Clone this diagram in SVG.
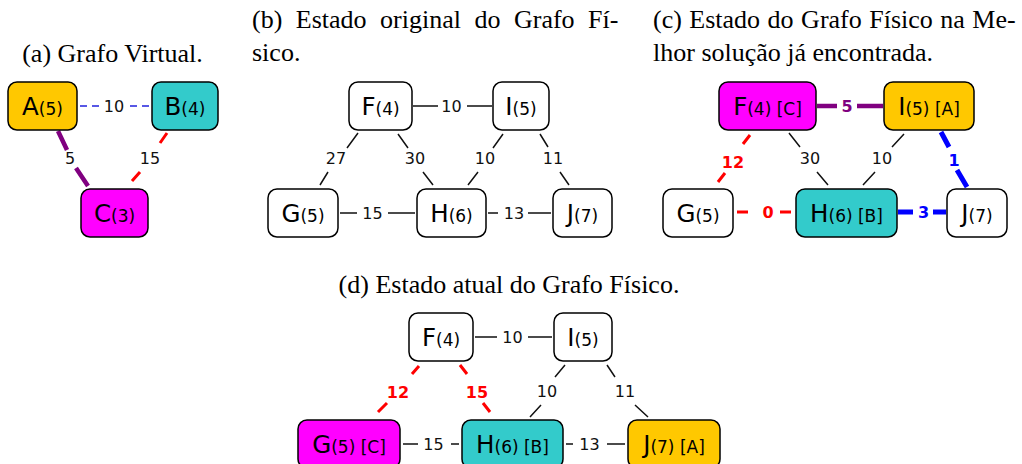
<svg xmlns="http://www.w3.org/2000/svg" width="1022" height="464" viewBox="0 0 1022 464">
<style>
.bg{fill:#fff}
.box{stroke:#000;stroke-width:1.5}
.w{fill:#fff}.mg{fill:#ff00ff}.gd{fill:#ffc800}.tl{fill:#33cbcb}
.nt{font-family:"DejaVu Sans",Verdana,sans-serif;text-anchor:middle;fill:#000}
.big{font-size:24.5px}.sm{font-size:17px}
.lbl{font-family:"DejaVu Sans",Verdana,sans-serif;font-size:16px;text-anchor:middle;fill:#111}
.b{font-weight:bold}
.cap{font-family:"Liberation Serif","Times New Roman",serif;font-size:26px;fill:#000}
.thin{stroke:#111;stroke-width:1.5;fill:none}
.red{stroke:#ff0000;stroke-width:3;fill:none}
.pur{stroke:#800080;stroke-width:4.5;fill:none}
.blu{stroke:#0000ff;stroke-width:5;fill:none}
.bluthin{stroke:#2222dd;stroke-width:1.5;fill:none}
</style>
<rect class="bg" width="1022" height="464"/>
<g id="captions">
<text class="cap" x="112.5" y="62" text-anchor="middle">(a) Grafo Virtual.</text>
<text class="cap" x="252" y="28" word-spacing="7">(b) Estado original do Grafo Fí-</text>
<text class="cap" x="252" y="61">sico.</text>
<text class="cap" x="653" y="28" word-spacing="1">(c) Estado do Grafo Físico na Me-</text>
<text class="cap" x="653" y="61">lhor solução já encontrada.</text>
<text class="cap" x="509" y="293" text-anchor="middle">(d) Estado atual do Grafo Físico.</text>
</g>
<g id="connectors">
<!-- (a) -->
<path class="bluthin" d="M80,106H87M92,106H99M130,106H137M142,106H149"/>
<text class="lbl" x="114" y="112">10</text>
<path class="pur" d="M58,131L67,150M76,168L88,186"/>
<text class="lbl" x="70" y="164">5</text>
<path class="red" d="M167,133L160,143M140,172L132,181"/>
<text class="lbl" x="150" y="164">15</text>
<!-- (b) -->
<path class="thin" d="M413,106H438M467,106H492"/>
<text class="lbl" x="451.5" y="112">10</text>
<path class="thin" d="M358,133L347,148M328,172L320,185"/>
<text class="lbl" x="336" y="164">27</text>
<path class="thin" d="M398,134L408,148M423,172L433,185"/>
<text class="lbl" x="415" y="164">30</text>
<path class="thin" d="M503,134L493,148M478,172L468,185"/>
<text class="lbl" x="485" y="164">10</text>
<path class="thin" d="M540,134L548,147M560,172L569,185"/>
<text class="lbl" x="553" y="164">11</text>
<path class="thin" d="M340,213H357M388,213H415"/>
<text class="lbl" x="372.5" y="219">15</text>
<path class="thin" d="M488,213H498M528,213H551"/>
<text class="lbl" x="514" y="219">13</text>
<!-- (c) -->
<path class="pur" d="M817,106H837M857,106H883"/>
<text class="lbl b" x="847" y="112" style="fill:#800080">5</text>
<path class="red" d="M750,135L743,144M725,173L718,182"/>
<text class="lbl b" x="733" y="168" style="fill:#ff0000">12</text>
<path class="thin" d="M789,133L800,147M817,172L828,185"/>
<text class="lbl" x="810" y="164">30</text>
<path class="thin" d="M904,134L892,147M875,172L863,185"/>
<text class="lbl" x="882" y="164">10</text>
<path class="blu" d="M941,132L949,147M957,170L967,187"/>
<text class="lbl b" x="954" y="166" style="fill:#0000ff">1</text>
<path class="red" d="M737,212H748M780,212H791"/>
<text class="lbl b" x="768" y="218" style="fill:#ff0000">0</text>
<path class="blu" d="M898,212H913M933,212H946"/>
<text class="lbl b" x="923.5" y="218" style="fill:#0000ff">3</text>
<!-- (d) -->
<path class="thin" d="M475,337H497M528,337H552"/>
<text class="lbl" x="512.5" y="343">10</text>
<path class="red" d="M419,366L412,374M387,403L378,412"/>
<text class="lbl b" x="398" y="398" style="fill:#ff0000">12</text>
<path class="red" d="M460,365L467,374M483,403L490,412"/>
<text class="lbl b" x="477" y="398" style="fill:#ff0000">15</text>
<path class="thin" d="M565,365L555,377M541,405L530,417"/>
<text class="lbl" x="547" y="397">10</text>
<path class="thin" d="M607,365L615,377M635,405L648,417"/>
<text class="lbl" x="625" y="397">11</text>
<path class="thin" d="M403,444H418M451,444H459"/>
<text class="lbl" x="433.5" y="450">15</text>
<path class="thin" d="M566,444H573M607,444H625"/>
<text class="lbl" x="589.5" y="450">13</text>
</g>
<!-- (a) nodes -->
<g id="a-A"><rect class="box gd" x="8" y="82" width="69" height="48" rx="9"/><text class="nt" x="42.5" y="115"><tspan class="big">A</tspan><tspan class="sm">(5)</tspan></text></g>
<g id="a-B"><rect class="box tl" x="152" y="82" width="66" height="48" rx="9"/><text class="nt" x="185" y="115"><tspan class="big">B</tspan><tspan class="sm">(4)</tspan></text></g>
<g id="a-C"><rect class="box mg" x="81" y="189" width="67" height="48" rx="9"/><text class="nt" x="114.5" y="222"><tspan class="big">C</tspan><tspan class="sm">(3)</tspan></text></g>
<!-- (b) nodes -->
<g id="b-F"><rect class="box w" x="349" y="82" width="63" height="48" rx="9"/><text class="nt" x="380.5" y="115"><tspan class="big">F</tspan><tspan class="sm">(4)</tspan></text></g>
<g id="b-I"><rect class="box w" x="493" y="82" width="56" height="48" rx="9"/><text class="nt" x="521" y="115"><tspan class="big">I</tspan><tspan class="sm">(5)</tspan></text></g>
<g id="b-G"><rect class="box w" x="268" y="189" width="70" height="48" rx="9"/><text class="nt" x="303" y="222"><tspan class="big">G</tspan><tspan class="sm">(5)</tspan></text></g>
<g id="b-H"><rect class="box w" x="417" y="189" width="69" height="48" rx="9"/><text class="nt" x="451.5" y="222"><tspan class="big">H</tspan><tspan class="sm">(6)</tspan></text></g>
<g id="b-J"><rect class="box w" x="553" y="189" width="59" height="48" rx="9"/><text class="nt" x="582.5" y="222"><tspan class="big">J</tspan><tspan class="sm">(7)</tspan></text></g>
<!-- (c) nodes -->
<g id="c-F"><rect class="box mg" x="719" y="82" width="97" height="48" rx="9"/><text class="nt" x="767.5" y="115"><tspan class="big">F</tspan><tspan class="sm">(4) [C]</tspan></text></g>
<g id="c-I"><rect class="box gd" x="884" y="82" width="90" height="48" rx="9"/><text class="nt" x="929" y="115"><tspan class="big">I</tspan><tspan class="sm">(5) [A]</tspan></text></g>
<g id="c-G"><rect class="box w" x="663" y="189" width="70" height="48" rx="9"/><text class="nt" x="698" y="222"><tspan class="big">G</tspan><tspan class="sm">(5)</tspan></text></g>
<g id="c-H"><rect class="box tl" x="796" y="189" width="101" height="48" rx="9"/><text class="nt" x="846.5" y="222"><tspan class="big">H</tspan><tspan class="sm">(6) [B]</tspan></text></g>
<g id="c-J"><rect class="box w" x="947" y="189" width="60" height="48" rx="9"/><text class="nt" x="977" y="222"><tspan class="big">J</tspan><tspan class="sm">(7)</tspan></text></g>
<!-- (d) nodes -->
<g id="d-F"><rect class="box w" x="409" y="313" width="64" height="48" rx="9"/><text class="nt" x="441" y="346"><tspan class="big">F</tspan><tspan class="sm">(4)</tspan></text></g>
<g id="d-I"><rect class="box w" x="554" y="313" width="58" height="48" rx="9"/><text class="nt" x="583" y="346"><tspan class="big">I</tspan><tspan class="sm">(5)</tspan></text></g>
<g id="d-G"><rect class="box mg" x="298" y="420" width="102" height="48" rx="9"/><text class="nt" x="349" y="453"><tspan class="big">G</tspan><tspan class="sm">(5) [C]</tspan></text></g>
<g id="d-H"><rect class="box tl" x="462" y="420" width="101" height="48" rx="9"/><text class="nt" x="512.5" y="453"><tspan class="big">H</tspan><tspan class="sm">(6) [B]</tspan></text></g>
<g id="d-J"><rect class="box gd" x="628" y="420" width="92" height="48" rx="9"/><text class="nt" x="674" y="453"><tspan class="big">J</tspan><tspan class="sm">(7) [A]</tspan></text></g>
</svg>
